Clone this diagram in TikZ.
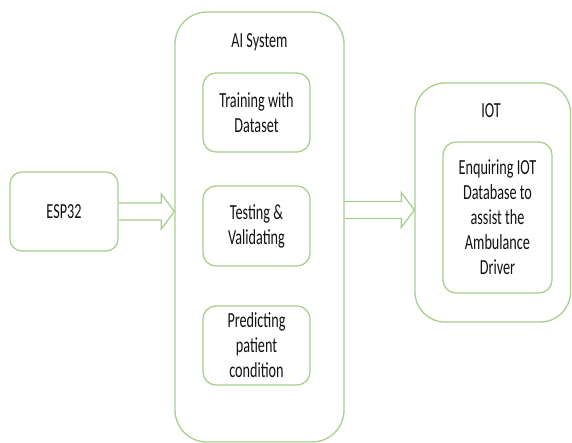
\documentclass[tikz,border=0pt]{standalone}
\usepackage{fontspec}
\setmainfont[FakeStretch=0.66]{Carlito}
\usetikzlibrary{calc}
\definecolor{boxgreen}{HTML}{A8D08D}
\definecolor{txt}{HTML}{111111}
\tikzset{
  box/.style={draw=boxgreen, line width=1.3pt, text=txt, align=center, inner sep=0pt,
    font=\fontsize{21.5}{25}\selectfont},
  outerbox/.style={box, rounded corners=32pt},
  innerbox/.style={box, rounded corners=13pt},
  title/.style={text=txt, font=\fontsize{21.5}{25}\selectfont, inner sep=0pt},
  arr/.style={draw=boxgreen, line width=1.3pt, line join=miter},
}
\newcommand\myblockarrow[2]{%
  \draw[arr] let \p1=(#1), \p2=(#2) in
    (\x1,{\y2+8.5pt}) -- ({\x2-13pt},{\y2+8.5pt}) -- ({\x2-13pt},{\y2+17.5pt})
    -- (\x2,\y2) -- ({\x2-13pt},{\y2-17.5pt}) -- ({\x2-13pt},{\y2-8.5pt}) -- (\x1,{\y2-8.5pt});}
\begin{document}
\begin{tikzpicture}[x=1pt,y=-1pt]
\useasboundingbox (0,0) rectangle (572,443);
% left box
\node[box, rounded corners=12pt, minimum width=108pt, minimum height=79pt] (esp) at (64,211.5) {ESP32};
% AI system
\node[outerbox, minimum width=169pt, minimum height=430pt] (ai) at (259.5,227) {};
\node[title] (aititle) at (259.5,42) {AI System};
\node[innerbox, minimum width=107pt, minimum height=79pt] (train) at (256.5,112.5) {Training with\\Dataset};
\node[innerbox, minimum width=107pt, minimum height=80pt] (test) at (256.5,226) {Testing \&\\Validating};
\node[innerbox, minimum width=107pt, minimum height=79pt] (pred) at (256.5,345.5) {Predicting\\patient\\condition};
% IOT
\node[outerbox, rounded corners=30pt, minimum width=155.5pt, minimum height=239pt] (iot) at (492.75,202.5) {};
\node[title] (iottitle) at (491,111) {IOT};
\node[innerbox, minimum width=109pt, minimum height=151pt] (enq) at (497.5,217.5) {Enquiring IOT\\Database to\\assist the\\Ambulance\\Driver};
% arrows
\coordinate (t1) at ($(esp.east -| ai.west)$);
\myblockarrow{esp.east}{t1}
\coordinate (s2) at ($(ai.east)+(0,-17)$);
\coordinate (t2) at ($(s2 -| iot.west)$);
\myblockarrow{s2}{t2}
\end{tikzpicture}
\end{document}
